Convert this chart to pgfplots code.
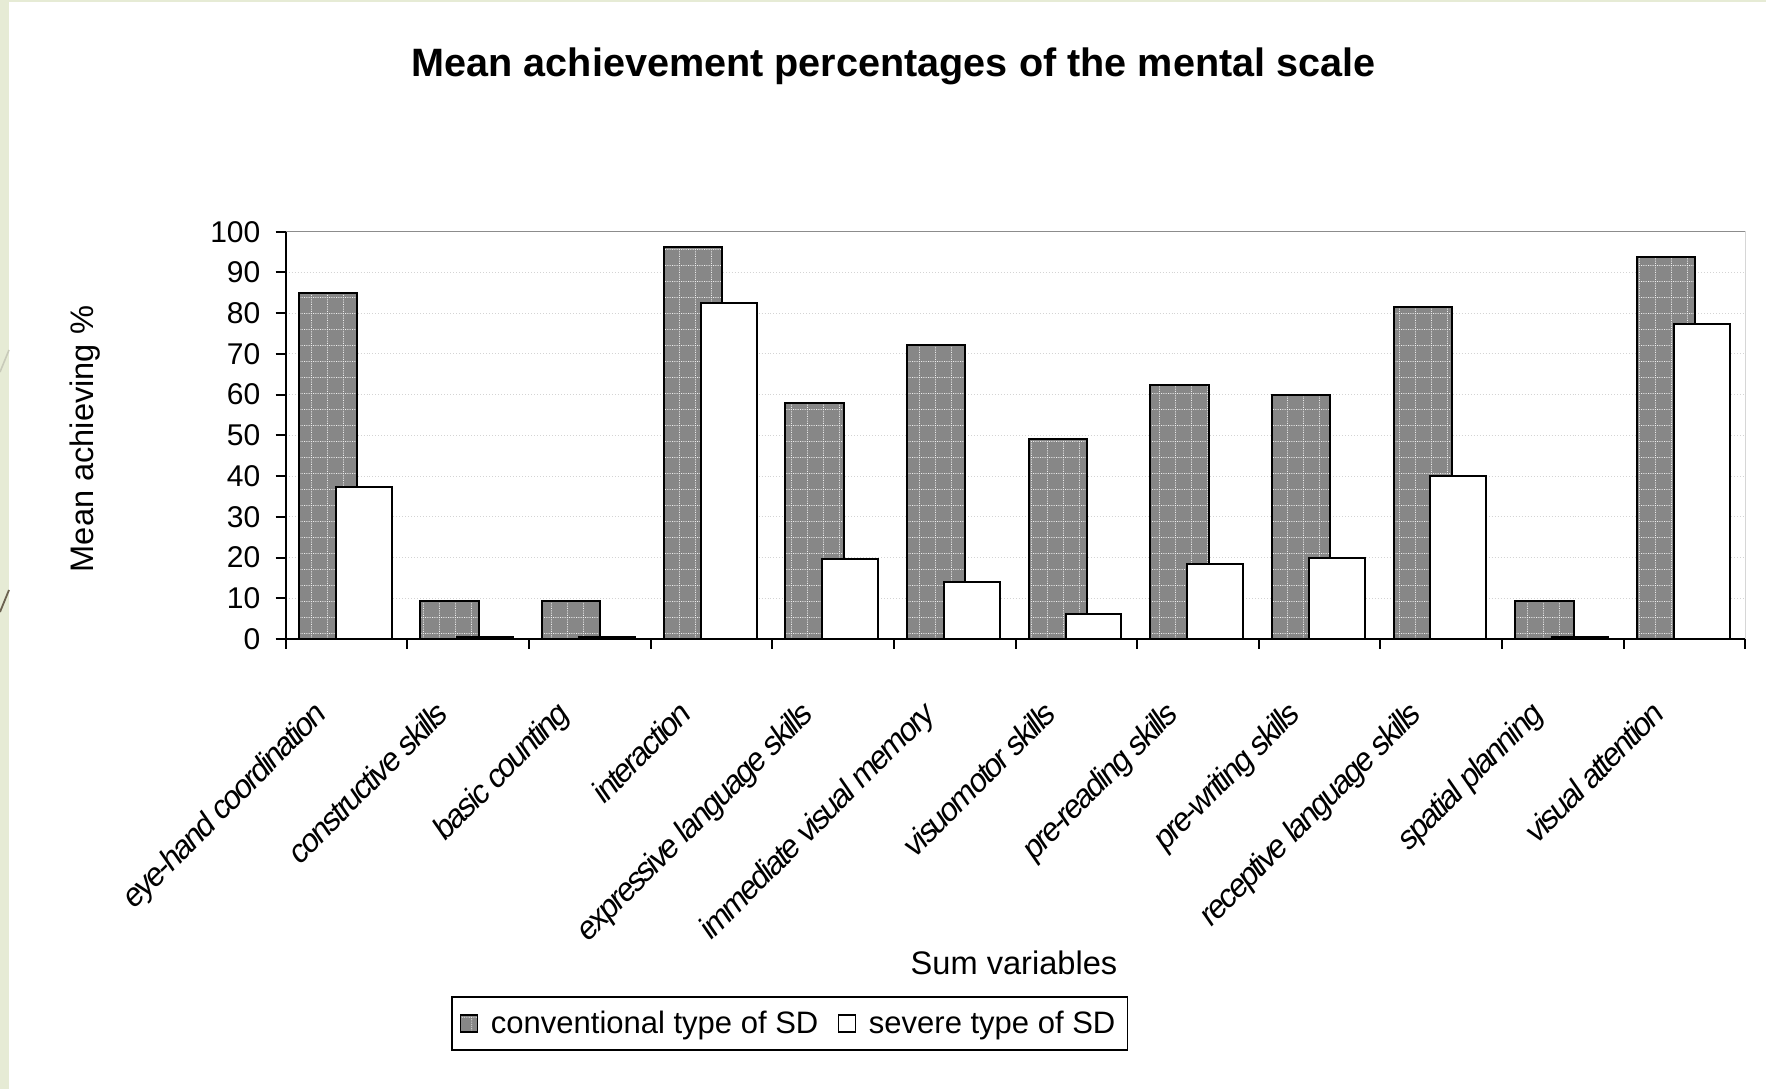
\documentclass[border=0pt]{standalone}
\usepackage{fontspec}
\setmainfont{Liberation Sans}
\newfontfamily\ticklabelfont[LetterSpace=-7,FakeSlant=0.18]{Liberation Sans}
\usepackage{pgfplots}
\usepackage{pgfplotstable}
\pgfplotsset{compat=1.18}
\usetikzlibrary{patterns}

\definecolor{pagegreen}{HTML}{E6EBD5}
\definecolor{convgray}{HTML}{878787}
\definecolor{gridgray}{HTML}{D4D4D4}
\definecolor{frameline}{HTML}{8C8C8C}

% faint light grid that sits on top of the shaded bars
\pgfdeclarepatternformonly{cellgrid}{\pgfpointorigin}{\pgfpoint{8bp}{8bp}}{\pgfpoint{8bp}{8bp}}{%
  \pgfsetlinewidth{0.45bp}%
  \pgfsetdash{{0.6bp}{0.6bp}}{0bp}%
  \pgfpathmoveto{\pgfpoint{4bp}{0bp}}\pgfpathlineto{\pgfpoint{4bp}{8bp}}%
  \pgfpathmoveto{\pgfpoint{0bp}{4bp}}\pgfpathlineto{\pgfpoint{8bp}{4bp}}%
  \pgfusepath{stroke}%
}

% mean achieving percentages per sum variable
\pgfplotstableread{
idx conv severe
0  85.0 37.2
1   9.3  0.4
2   9.3  0.4
3  96.3 82.4
4  57.9 19.6
5  72.3 14.1
6  49.1  6.2
7  62.3 18.5
8  60.0 20.0
9  81.5 40.1
10  9.3  0.4
11 93.8 77.4
}\scores

\begin{document}
\begin{tikzpicture}[x=1bp,y=1bp]
\useasboundingbox (0,0) rectangle (883,544.5);
% page background
\fill[pagegreen] (0,0) rectangle (883,544.5);
\fill[white] (4.5,0) rectangle (883,543.5);
\draw[line width=0.8bp, color={rgb,255:red,200;green,202;blue,185}] (0,358.5) -- (4.5,369.5);
\draw[line width=0.9bp, color={rgb,255:red,107;green,98;blue,80}] (0,238.5) -- (4.5,249.5);

% title and axis titles
\node[anchor=base, font=\bfseries\fontsize{19.8bp}{24bp}\selectfont] at (446.8,506.2)
  {Mean achievement percentages of the mental scale};
\node[rotate=90, anchor=base, font=\fontsize{16.3bp}{20bp}\selectfont] at (46.5,325)
  {Mean achieving \%};
\node[anchor=base, font=\fontsize{16.3bp}{20bp}\selectfont] at (507,57) {Sum variables};

\begin{axis}[
  at={(142.85bp,225bp)}, anchor=south west,
  scale only axis, width=729.8bp, height=203.65bp,
  ybar,
  xmin=-0.5, xmax=11.5, ymin=0, ymax=100,
  axis x line*=bottom, axis y line*=left,
  axis line style={black, line width=1.1bp},
  tick align=outside,
  major tick length=5bp, minor tick length=5bp,
  ytick={0,10,...,100},
  y tick style={black, line width=1bp},
  yticklabel style={font=\fontsize{15bp}{18bp}\selectfont, anchor=east, inner sep=0pt, xshift=-7.5bp},
  /pgf/number format/assume math mode=true,
  xtick={0,...,11},
  major x tick style={draw=none},
  minor xtick={-0.5,0.5,...,11.5},
  minor x tick style={black, line width=1bp},
  xticklabels={eye-hand coordination, constructive skills, basic counting, interaction,
    expressive language skills, immediate visual memory, visuomotor skills,
    pre-reading skills, pre-writing skills, receptive language skills,
    spatial planning, visual attention},
  xticklabel style={xshift=-17.8bp, yshift=-25.5bp, rotate=45, anchor=north east, inner sep=0pt,
    font=\ticklabelfont\fontsize{16bp}{19bp}\selectfont},
  ymajorgrids,
  major grid style={draw=gridgray, line width=0.5bp, densely dotted},
  legend columns=2,
  legend style={at={(0.3452,-0.944)}, anchor=center, draw=black, line width=0.8bp,
    fill=white, font=\fontsize{15.5bp}{18bp}\selectfont,
    inner xsep=4bp, inner ysep=5bp,
    /tikz/every odd column/.append style={column sep=4.5bp},
    /tikz/every even column/.append style={column sep=7.7bp}},
  legend image code/.code={\draw[#1, line width=0.6bp] (0bp,-4.25bp) rectangle (8.5bp,4.25bp);},
]
\addplot[draw=black, line width=1bp, fill=convgray, bar width=0.48, bar shift=-0.152,
  postaction={pattern=cellgrid, pattern color=white!88!gray}]
  table[x=idx, y=conv] {\scores};
\addlegendentry{conventional type of SD}
\addplot[draw=black, line width=1bp, fill=white, bar width=0.46, bar shift=0.141]
  table[x=idx, y=severe] {\scores};
\addlegendentry{severe type of SD}
\draw[frameline, line width=0.8bp] (rel axis cs:0,1) -- (rel axis cs:1,1) -- (rel axis cs:1,0);
\end{axis}
\end{tikzpicture}
\end{document}
